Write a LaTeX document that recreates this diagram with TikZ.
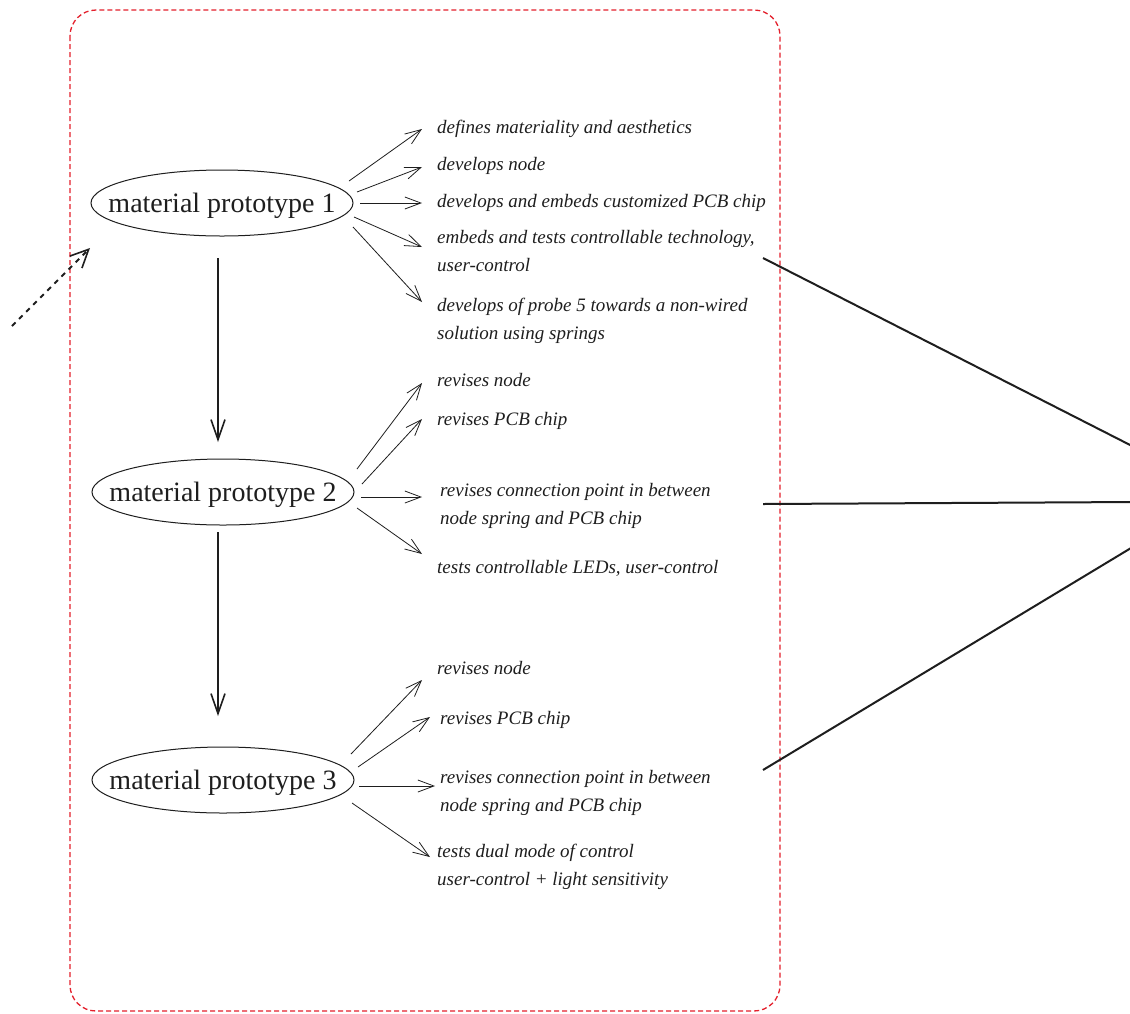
\documentclass[tikz,border=0pt]{standalone}
\usepackage{fontspec}
\setmainfont{Liberation Serif}
\usetikzlibrary{arrows.meta,shapes.geometric}
\definecolor{frame}{RGB}{228,32,44}
\definecolor{ink}{RGB}{30,30,30}
% a label of no size, so the ellipse keeps its own fixed width and height
\newcommand{\protolabel}[1]{\raisebox{-0.33em}[0pt][0pt]{\makebox[0pt]{#1}}}
\tikzset{
  proto/.style={draw=ink, line width=1pt, ellipse, minimum width=262pt, minimum height=66pt, inner sep=0pt, font=\fontsize{28}{30}\selectfont, text=ink},
  note/.style={anchor=west, inner sep=0pt, align=left, font=\fontsize{19}{28}\selectfont\itshape, text=ink},
  arr/.style={draw=ink, line width=0.8pt, -{Straight Barb[length=16pt,width=12pt,line width=0.8pt]}},
  flow/.style={draw=ink, line width=1.8pt, -{Straight Barb[length=20pt,width=14pt,line width=1.6pt]}},
  link/.style={draw=ink, line width=2pt},
}
\begin{document}
\begin{tikzpicture}[x=1pt,y=-1pt]
\useasboundingbox (0,0) rectangle (1130,1013);
\fill[white] (0,0) rectangle (1130,1013);

% dashed frame
\draw[frame, line width=1.3pt, dash pattern=on 5pt off 3pt, rounded corners=26pt]
  (70,10) rectangle (780,1011);

% incoming dashed arrow
\coordinate (inS) at (12,326);
\coordinate (inE) at (90,248);
\draw[ink, line width=1.8pt, dash pattern=on 5pt off 5pt,
  -{Straight Barb[length=18pt,width=17pt,line width=1.6pt]}] (inS) -- (inE);

% prototypes
\node[proto] (e1) at (222,203) {\protolabel{material prototype 1}};
\node[proto] (e2) at (223,492) {\protolabel{material prototype 2}};
\node[proto] (e3) at (223,780) {\protolabel{material prototype 3}};

\coordinate (v1s) at (218,258);
\coordinate (v1e) at (218,442);
\coordinate (v2s) at (218,532);
\coordinate (v2e) at (218,716);
\draw[flow] (v1s) -- (v1e);
\draw[flow] (v2s) -- (v2e);

% prototype 1 notes
\node[note] (t11) at (437,129) {defines materiality and aesthetics};
\node[note] (t12) at (437,166) {develops node};
\node[note] (t13) at (437,203) {develops and embeds customized PCB chip};
\node[note] (t14) at (437,251) {embeds and tests controllable technology,\\user-control};
\node[note] (t15) at (437,321) {develops of probe 5 towards a non-wired\\solution using springs};

\coordinate (s11) at (349,181); \coordinate (d11) at (422,129);
\coordinate (s12) at (357,192); \coordinate (d12) at (422,167);
\coordinate (s13) at (360,203); \coordinate (d13) at (422,203);
\coordinate (s14) at (354,217); \coordinate (d14) at (422,247);
\coordinate (s15) at (353,227); \coordinate (d15) at (422,302);
\foreach \i in {1,...,5} \draw[arr] (s1\i) -- (d1\i);

% prototype 2 notes
\node[note] (t21) at (437,380) {revises node};
\node[note] (t22) at (437,421) {revises PCB chip};
\node[note] (t23) at (440,506) {revises connection point in between\\node spring and PCB chip};
\node[note] (t24) at (437,568) {tests controllable LEDs, user-control};

\coordinate (s21) at (357,469); \coordinate (d21) at (422,383);
\coordinate (s22) at (362,484); \coordinate (d22) at (422,419);
\coordinate (s23) at (361,497); \coordinate (d23) at (422,497);
\coordinate (s24) at (357,508); \coordinate (d24) at (422,554);
\foreach \i in {1,...,4} \draw[arr] (s2\i) -- (d2\i);

% prototype 3 notes
\node[note] (t31) at (437,668) {revises node};
\node[note] (t32) at (440,720) {revises PCB chip};
\node[note] (t33) at (440,793) {revises connection point in between\\node spring and PCB chip};
\node[note] (t34) at (437,867) {tests dual mode of control\\user-control + light sensitivity};

\coordinate (s31) at (351,754); \coordinate (d31) at (422,680);
\coordinate (s32) at (358,767); \coordinate (d32) at (430,717);
\coordinate (s33) at (359,786); \coordinate (d33) at (435,786);
\coordinate (s34) at (352,803); \coordinate (d34) at (430,857);
\foreach \i in {1,...,4} \draw[arr] (s3\i) -- (d3\i);

% links leaving to the right
\coordinate (l1s) at (763,258); \coordinate (l1e) at (1136,448);
\coordinate (l2s) at (763,504); \coordinate (l2e) at (1136,502);
\coordinate (l3s) at (763,770); \coordinate (l3e) at (1136,545);
\draw[link] (l1s) -- (l1e);
\draw[link] (l2s) -- (l2e);
\draw[link] (l3s) -- (l3e);
\end{tikzpicture}
\end{document}
